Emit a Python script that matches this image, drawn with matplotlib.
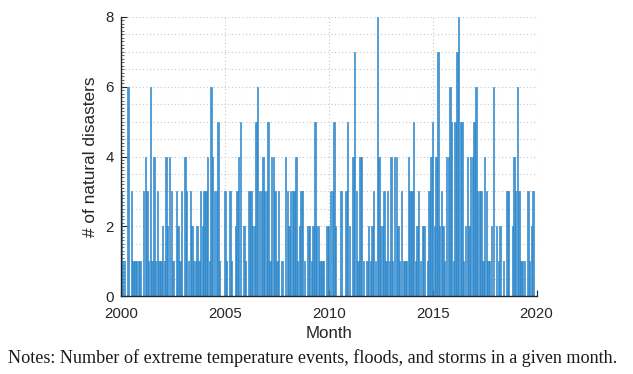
import matplotlib
matplotlib.use("Agg")
import matplotlib.pyplot as plt
from matplotlib.ticker import MultipleLocator
import numpy as np

# Monthly counts, Jan 2000 .. Dec 2019 (240 months)
counts_2000_2003 = [3,1,1,0,6,0,3,1,1,1,1,1, 0,3,4,3,1,6,1,4,1,3,1,1,
                    2,1,4,2,4,3,1,0,3,2,1,3, 0,4,3,1,3,2,1,1,2,1,3,2]
counts_2004_2007 = [3,3,4,1,6,4,3,3,5,1,0,0, 3,1,0,3,1,0,2,3,4,5,0,2,
                    1,0,3,3,2,2,5,6,3,3,4,3, 3,5,1,4,4,3,1,3,0,1,0,4]
counts_2008_2011 = [3,2,3,3,3,4,1,2,3,3,1,0, 2,2,1,2,5,2,2,1,1,1,0,2,
                    2,3,3,5,2,0,0,3,0,0,3,5, 2,0,4,7,3,1,4,4,1,0,1,2]
counts_2012_2015 = [1,2,3,1,8,4,2,2,3,1,3,1, 4,1,4,4,2,1,3,1,1,1,4,3,
                    3,5,1,2,3,1,2,2,0,1,3,4, 5,2,4,7,2,3,2,1,4,4,6,5]
counts_2016_2019 = [1,5,7,8,5,5,1,2,4,2,4,4, 5,6,3,3,3,1,4,3,1,1,2,6,
                    0,2,1,2,0,1,0,3,3,0,2,4, 3,6,3,1,1,1,0,3,1,2,3,0]

counts = counts_2000_2003 + counts_2004_2007 + counts_2008_2011 + counts_2012_2015 + counts_2016_2019
start_year = 2000
x_ticks = [2000, 2005, 2010, 2015, 2020]
y_ticks = [0, 2, 4, 6, 8]
x_label = "Month"
y_label = "# of natural disasters"
note = "Notes: Number of extreme temperature events, floods, and storms in a given month."

months = start_year + np.arange(len(counts)) / 12.0

W, H = 633, 374
ax_l, ax_r, ax_t, ax_b = 121, 536.5, 17, 296
fig = plt.figure(figsize=(W / 100, H / 100), dpi=100)
ax = fig.add_axes([ax_l / W, 1 - ax_b / H, (ax_r - ax_l) / W, (ax_b - ax_t) / H])

dark = "#262626"
ax.set_axisbelow(True)
for yv in np.arange(0.5, 8.01, 0.5):
    ax.axhline(yv, color="#c8c8c8", lw=0.8, ls=(0, (1, 2.2)), zorder=0)
for xv in x_ticks[1:]:
    ax.axvline(xv, color="#c8c8c8", lw=0.8, ls=(0, (1, 2.2)), zorder=0)

ax.bar(months, counts, width=0.8 / 12, color="#4596d2", edgecolor="#1f80c8",
       linewidth=0.4, zorder=2)

ax.set_xlim(2000, 2020)
ax.set_ylim(0, 8)
ax.set_xticks(x_ticks)
ax.set_yticks(y_ticks)
ax.yaxis.set_minor_locator(MultipleLocator(0.1))

for s in ["top", "right"]:
    ax.spines[s].set_visible(False)
for s in ["left", "bottom"]:
    ax.spines[s].set_color(dark)
    ax.spines[s].set_linewidth(1.0)
    ax.spines[s].set_zorder(3)

ax.tick_params(axis="both", which="major", direction="in", length=4, width=0.8,
               colors=dark, labelsize=10.8, labelfontfamily="Liberation Sans")
ax.tick_params(axis="y", which="minor", direction="in", length=2, width=0.5, colors=dark)
ax.tick_params(axis="x", which="major", pad=8)
ax.tick_params(axis="y", which="major", pad=5)

ax.set_xlabel(x_label, fontsize=12.2, family="Liberation Sans", color=dark, va="center")
ax.set_ylabel(y_label, fontsize=12.4, family="Liberation Sans", color=dark, va="center")
ax.xaxis.set_label_coords(0.5, -(334 - ax_b) / (ax_b - ax_t))
ax.yaxis.set_label_coords(-(ax_l - 90) / (ax_r - ax_l), 0.5)

t = fig.text(312.5 / W, 1 - 358 / H, note, ha="center", va="center",
             family="Liberation Serif", fontsize=12, color="#1a1a1a")
fig.canvas.draw()
w = t.get_window_extent().width
t.set_fontsize(12 * 608 / w)

fig.savefig("out.png", dpi=100)
